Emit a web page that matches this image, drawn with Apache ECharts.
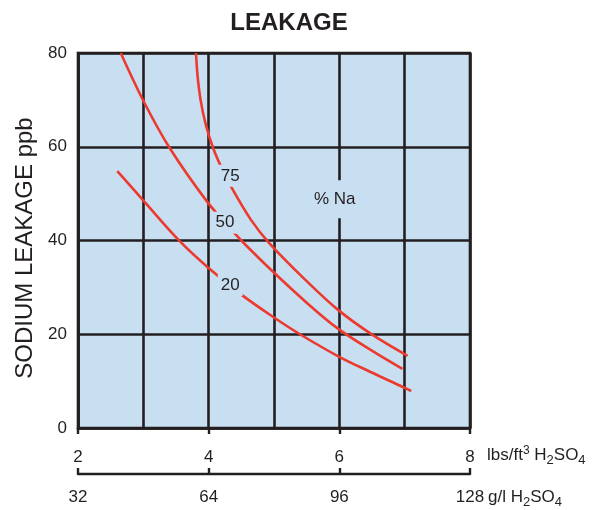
<!DOCTYPE html>
<html>
<head>
<meta charset="utf-8">
<script src="https://cdn.jsdelivr.net/npm/echarts@6/dist/echarts.min.js"></script>
<style>
  html, body { margin: 0; padding: 0; background: #ffffff; }
  #chart { width: 605px; height: 510px; }
</style>
</head>
<body>
<div id="chart"></div>
<script>
// Sodium leakage (ppb) against regenerant dose, one curve per % Na in feed
const naLevels = ['20', '50', '75'];

// Dose in lbs/ft3 H2SO4 and leakage in ppb for each curve
const dose20 = [2.602, 3.015, 3.561, 3.985, 4.506, 4.965, 5.398, 5.984, 6.470, 6.979, 7.100];
const leak20 = [54.8, 48.3, 39.8, 34.3, 28.4, 23.9, 20.0, 15.3, 12.0, 8.7, 7.9];

const dose50 = [2.654, 3.008, 3.396, 3.976, 4.398, 4.548, 4.957, 5.487, 5.969, 6.486, 6.966];
const leak50 = [80.0, 69.6, 59.9, 48.3, 41.5, 39.3, 33.7, 26.9, 21.3, 16.6, 12.6];

const dose75 = [3.806, 3.831, 3.876, 3.951, 4.061, 4.181, 4.343, 4.648, 4.930, 5.480, 5.980, 6.515, 7.045];
const leak75 = [80.0, 75.0, 70.0, 65.0, 60.0, 56.0, 51.5, 44.4, 39.4, 31.6, 25.2, 19.8, 15.4];

// Where each curve's % Na tag sits, in dose / ppb
const tagDose = [4.33, 4.25, 4.33];
const tagLeak = [30.5, 43.8, 53.8];
const naTitle = '% Na';
const naTitleAt = [5.93, 48.8];

// Axis scales
const lbsTicks = [2, 4, 6, 8];
const gplTicks = [32, 64, 96, 128];
const ppbTicks = [0, 20, 40, 60, 80];

const INK = '#231f20';
const RED = '#ec3a2e';
const FIELD = '#c8dff2';
const FONT = '"Liberation Sans", Arial, Helvetica, sans-serif';

const curves = [
  { name: naLevels[0], x: dose20, y: leak20 },
  { name: naLevels[1], x: dose50, y: leak50 },
  { name: naLevels[2], x: dose75, y: leak75 }
];

const chart = echarts.init(document.getElementById('chart'), null, { renderer: 'canvas' });

const series = curves.map(c => ({
  type: 'line',
  name: c.name,
  xAxisIndex: 0,
  yAxisIndex: 0,
  data: c.x.map((v, i) => [v, c.y[i]]),
  smooth: 0.35,
  showSymbol: false,
  symbol: 'none',
  clip: true,
  lineStyle: { color: RED, width: 2.6 },
  z: 3,
  silent: true
}));

// Tags on the curves, with a field-coloured backing that breaks the line beneath
series.push({
  type: 'scatter',
  xAxisIndex: 0,
  yAxisIndex: 0,
  symbolSize: 0,
  silent: true,
  z: 6,
  itemStyle: { opacity: 1 },
  data: naLevels.map((n, i) => ({ name: n, value: [tagDose[i], tagLeak[i]] })),
  label: {
    show: true,
    position: 'inside',
    formatter: p => p.name,
    fontSize: 17,
    fontFamily: FONT,
    color: INK,
    backgroundColor: FIELD,
    padding: [3, 3, 2, 3]
  }
});

series.push({
  type: 'scatter',
  xAxisIndex: 0,
  yAxisIndex: 0,
  symbolSize: 0,
  silent: true,
  z: 6,
  itemStyle: { opacity: 1 },
  data: [{ name: naTitle, value: naTitleAt }],
  label: {
    show: true,
    position: 'inside',
    formatter: p => p.name,
    fontSize: 17,
    fontFamily: FONT,
    color: INK,
    backgroundColor: FIELD,
    padding: [11, 4, 10, 4]
  }
});

const option = {
  animation: false,
  backgroundColor: '#ffffff',
  title: {
    text: 'LEAKAGE',
    left: 284,
    top: 6,
    textAlign: 'center',
    textStyle: { fontSize: 24, fontWeight: 'bold', fontFamily: FONT, color: INK }
  },
  grid: {
    left: 78,
    right: 135,
    top: 53,
    bottom: 82,
    show: true,
    backgroundColor: FIELD,
    borderColor: INK,
    borderWidth: 2.6
  },
  xAxis: [
    {
      type: 'value',
      min: lbsTicks[0],
      max: lbsTicks[lbsTicks.length - 1],
      interval: 1,
      axisLine: { show: true, onZero: false, lineStyle: { color: INK, width: 2.6 } },
      axisTick: { show: false },
      axisLabel: { show: false },
      splitLine: { show: true, lineStyle: { color: INK, width: 2.6 } }
    },
    {
      // lbs/ft3 scale, labels above the rule
      type: 'value',
      position: 'bottom',
      offset: 46,
      min: lbsTicks[0],
      max: lbsTicks[lbsTicks.length - 1],
      interval: lbsTicks[1] - lbsTicks[0],
      axisLine: { show: true, onZero: false, lineStyle: { color: INK, width: 2.4 } },
      axisTick: { show: true, inside: true, length: 6, lineStyle: { color: INK, width: 2.4 } },
      axisLabel: { show: true, inside: true, margin: 8, fontSize: 17, fontFamily: FONT, color: INK },
      splitLine: { show: false }
    },
    {
      // g/l scale, labels below the rule
      type: 'value',
      position: 'bottom',
      offset: 46,
      min: gplTicks[0],
      max: gplTicks[gplTicks.length - 1],
      interval: gplTicks[1] - gplTicks[0],
      axisLine: { show: false },
      axisTick: { show: true, inside: false, length: 6, lineStyle: { color: INK, width: 2.4 } },
      axisLabel: { show: true, margin: 15, fontSize: 17, fontFamily: FONT, color: INK },
      splitLine: { show: false }
    }
  ],
  yAxis: {
    type: 'value',
    min: ppbTicks[0],
    max: ppbTicks[ppbTicks.length - 1],
    interval: ppbTicks[1] - ppbTicks[0],
    axisLine: { show: true, lineStyle: { color: INK, width: 2.6 } },
    axisTick: { show: false },
    axisLabel: { margin: 11, fontSize: 17, fontFamily: FONT, color: INK },
    splitLine: { show: true, lineStyle: { color: INK, width: 2.6 } },
    name: 'SODIUM LEAKAGE ppb',
    nameLocation: 'middle',
    nameGap: 38,
    nameTextStyle: { fontSize: 24, fontFamily: FONT, color: INK, padding: [0, 15, 0, 0] }
  },
  series: series
};

chart.setOption(option);

// Unit captions to the right of the two dose scales
const unitRich = {
  base: { fill: INK, fontSize: 17, fontFamily: FONT, lineHeight: 24, verticalAlign: 'middle' },
  sup: { fill: INK, fontSize: 12, fontFamily: FONT, lineHeight: 12, verticalAlign: 'top', padding: [2, 0, 0, 0] },
  sub: { fill: INK, fontSize: 13, fontFamily: FONT, lineHeight: 12, verticalAlign: 'bottom' }
};
const scaleEnd = chart.convertToPixel({ xAxisIndex: 0 }, lbsTicks[lbsTicks.length - 1]);
const ruleY = chart.convertToPixel({ yAxisIndex: 0 }, ppbTicks[0]) + 46;

chart.setOption({
  graphic: [
    {
      type: 'text',
      x: scaleEnd + 17,
      y: ruleY - 19,
      silent: true,
      style: {
        text: '{base|lbs/ft}{sup|3}{base| H}{sub|2}{base|SO}{sub|4}',
        rich: unitRich,
        align: 'left',
        verticalAlign: 'middle'
      }
    },
    {
      type: 'text',
      x: scaleEnd + 18,
      y: ruleY + 23,
      silent: true,
      style: {
        text: '{base|g/l H}{sub|2}{base|SO}{sub|4}',
        rich: unitRich,
        align: 'left',
        verticalAlign: 'middle'
      }
    }
  ]
});
</script>
</body>
</html>
